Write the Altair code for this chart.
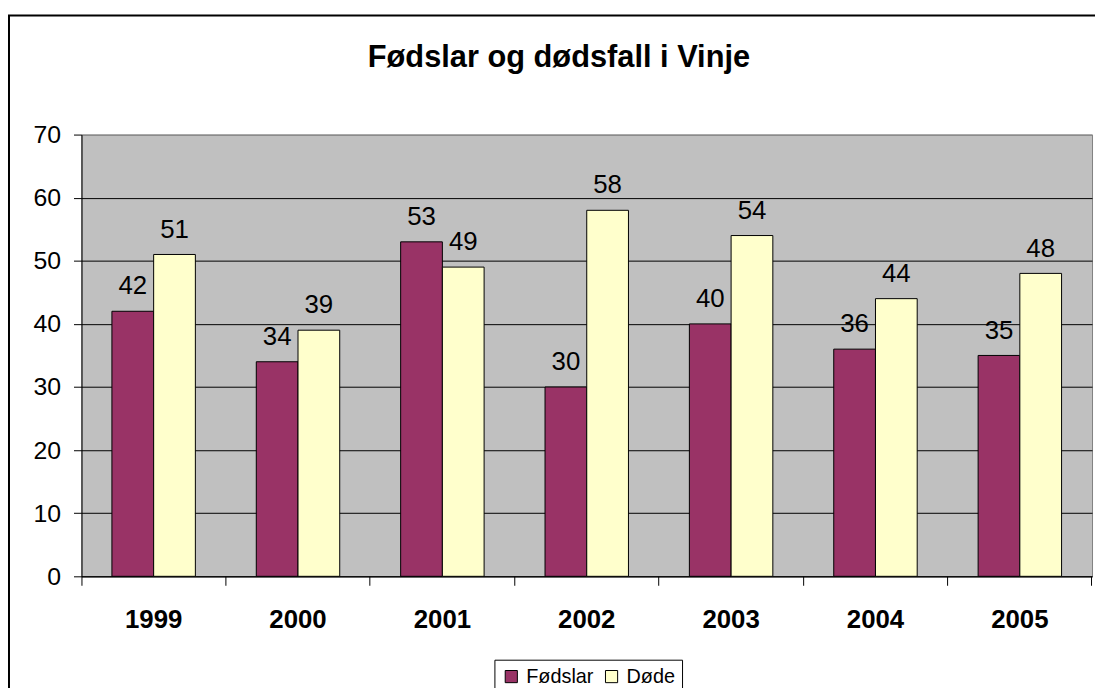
import altair as alt
import pandas as pd

years = ["1999", "2000", "2001", "2002", "2003", "2004", "2005"]
fodslar = [42, 34, 53, 30, 40, 36, 35]
dode = [51, 39, 49, 58, 54, 44, 48]
series = ["Fødslar", "Døde"]
colors = ["#993366", "#FFFFCC"]
y_ticks = [0, 10, 20, 30, 40, 50, 60, 70]
title_text = "Fødslar og dødsfall i Vinje"

rows = []
for i, y in enumerate(years):
    rows.append({"year": y, "serie": series[0], "value": fodslar[i]})
    rows.append({"year": y, "serie": series[1], "value": dode[i]})
df = pd.DataFrame(rows)
single = pd.DataFrame({"t": [title_text]})

FONT = "Liberation Sans"

x_enc = alt.X(
    "year:N",
    sort=years,
    title=None,
    scale=alt.Scale(paddingInner=0, paddingOuter=0),
    axis=alt.Axis(
        labelAngle=0,
        labelFontSize=26,
        labelFontWeight="bold",
        labelColor="black",
        labelFont=FONT,
        tickSize=9,
        tickColor="black",
        domainColor="black",
        bandPosition=1,
        tickExtra=True,
        labelPadding=22,
        grid=False,
    ),
)
xoff = alt.XOffset(
    "serie:N",
    sort=series,
    scale=alt.Scale(paddingInner=0, paddingOuter=0.73),
)
y_enc = alt.Y(
    "value:Q",
    title=None,
    scale=alt.Scale(domain=[0, 70], nice=False),
    axis=alt.Axis(
        values=y_ticks,
        labelFontSize=25,
        labelColor="black",
        labelFont=FONT,
        tickSize=8,
        tickColor="black",
        domainColor="black",
        labelPadding=13,
        grid=True,
        gridColor=alt.condition(alt.datum.value == 70, alt.value("#808080"), alt.value("black")),
        gridWidth=1,
    ),
)

base = alt.Chart(df)

frame = alt.Chart(single).mark_rect(fill=None, stroke="black", strokeWidth=2).encode(
    x=alt.value(-73), x2=alt.value(1100), y=alt.value(-120), y2=alt.value(700)
)

title = alt.Chart(single).mark_text(
    fontSize=31,
    font=FONT,
    fontWeight="bold",
    color="black",
    align="center",
    baseline="alphabetic",
).encode(x=alt.value(481), y=alt.value(-68), text="t:N")

bars = base.mark_bar(stroke="black", strokeWidth=1).encode(
    x=x_enc,
    xOffset=xoff,
    y=y_enc,
    color=alt.Color(
        "serie:N",
        sort=series,
        scale=alt.Scale(domain=series, range=colors),
        legend=alt.Legend(
            title=None,
            orient="none",
            legendX=416,
            legendY=529,
            direction="horizontal",
            strokeColor="black",
            fillColor="white",
            padding=7,
            symbolType="square",
            symbolSize=150,
            symbolStrokeColor="black",
            symbolStrokeWidth=1,
            labelFontSize=20,
            labelFont=FONT,
            labelColor="black",
            columnPadding=8,
            labelOffset=5,
        ),
    ),
)

labels = base.mark_text(
    fontSize=26, font=FONT, color="black", baseline="alphabetic", dy=-17
).encode(
    x=alt.X("year:N", sort=years),
    xOffset=alt.XOffset("serie:N", sort=series),
    y="value:Q",
    text="value:Q",
)

chart = (
    alt.layer(frame, title, bars, labels)
    .properties(
        width=1018,
        height=445,
        autosize="none",
        background="white",
        padding={"left": 74, "top": 125, "right": 3, "bottom": 110},
    )
    .configure_view(fill="#C0C0C0", stroke="#808080", strokeWidth=1)
)

chart.save("out.html", embed_options={"renderer": "svg", "actions": False})
